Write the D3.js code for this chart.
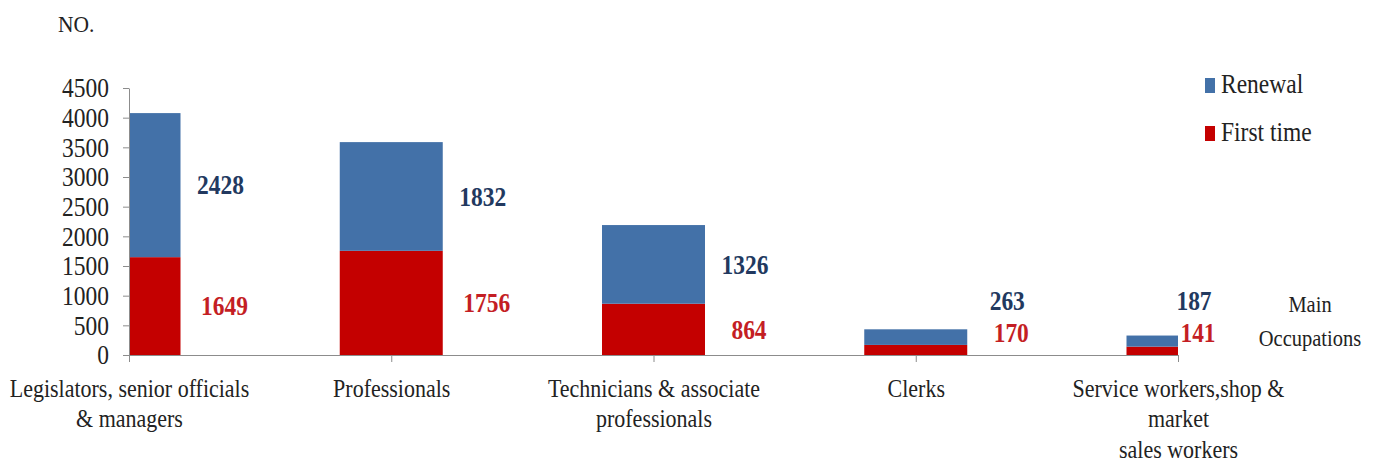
<!DOCTYPE html>
<html>
<head>
<meta charset="utf-8">
<script src="https://cdn.jsdelivr.net/npm/d3@7"></script>
<style>
  body { margin: 0; background: #fff; }
  svg text { font-family: "Liberation Serif", "Times New Roman", serif; }
</style>
</head>
<body>
<svg id="vis" width="1381" height="464"></svg>
<script>
// chart values
const categories = ["Legislators", "Professionals", "Technicians", "Clerks", "Service"];
const categoryLines = [
  ["Legislators, senior officials", "& managers"],
  ["Professionals"],
  ["Technicians & associate", "professionals"],
  ["Clerks"],
  ["Service workers,shop &", "market", "sales workers"]
];
const firstTime = [1649, 1756, 864, 170, 141];
const renewal = [2428, 1832, 1326, 263, 187];
const yTicks = [0, 500, 1000, 1500, 2000, 2500, 3000, 3500, 4000, 4500];
const seriesNames = ["Renewal", "First time"];

const colors = { renewal: "#4371a8", first: "#c40000", renewalText: "#22395f", firstText: "#c41e24", axis: "#8c8c8c", text: "#222" };
const SY = 1.12; // text in the picture is a bit taller than wide

const svg = d3.select("svg#vis");
const plot = { left: 129, right: 1178, top: 88, bottom: 355 };

const x = d3.scalePoint().domain(categories).range([plot.left, plot.right]).padding(0);
const y = d3.scaleLinear().domain([0, 4500]).range([plot.bottom, plot.top]);
const bw = 103;

// stacked data
const rows = categories.map((c, i) => ({ cat: c, first: firstTime[i], renewal: renewal[i] }));
const stack = d3.stack().keys(["first", "renewal"])(rows);

svg.append("clipPath").attr("id", "plotclip")
  .append("rect")
  .attr("x", plot.left + 1).attr("y", 0)
  .attr("width", plot.right - plot.left - 1).attr("height", plot.bottom);

const bars = svg.append("g").attr("clip-path", "url(#plotclip)");
bars.selectAll("g.series")
  .data(stack)
  .enter()
  .append("g")
  .attr("fill", d => d.key === "first" ? colors.first : colors.renewal)
  .selectAll("rect")
  .data(d => d)
  .enter()
  .append("rect")
  .attr("x", d => x(d.data.cat) - bw / 2)
  .attr("width", bw)
  .attr("y", d => y(d[1]))
  .attr("height", d => y(d[0]) - y(d[1]));

// helper for vertically stretched text
function stretched(parent, tx, ty, str, size, opts) {
  opts = opts || {};
  const t = parent.append("text")
    .attr("transform", `translate(${tx},${ty}) scale(1,${SY})`)
    .attr("font-size", size)
    .attr("fill", opts.fill || colors.text)
    .attr("text-anchor", opts.anchor || "start")
    .attr("font-weight", opts.weight || "normal")
    .attr("dy", opts.dy || 0)
    .text(str);
  return t;
}

// y axis
const yAxis = svg.append("g")
  .attr("transform", `translate(${plot.left},0)`)
  .call(d3.axisLeft(y).tickValues(yTicks).tickFormat(d3.format("d"))
    .tickSize(6).tickSizeOuter(0).tickPadding(14));
yAxis.select(".domain").attr("stroke", colors.axis);
yAxis.selectAll(".tick line").attr("stroke", colors.axis);
yAxis.selectAll(".tick text")
  .attr("font-size", 23.5)
  .attr("font-family", "Liberation Serif, serif")
  .attr("fill", colors.text)
  .attr("dy", "0.34em")
  .attr("transform", `scale(1,${SY})`);

// x axis
const xAxis = svg.append("g")
  .attr("transform", `translate(0,${plot.bottom})`)
  .call(d3.axisBottom(x).tickSize(7).tickSizeOuter(0).tickFormat(""));
xAxis.select(".domain").attr("stroke", colors.axis).attr("d", `M${plot.left},0.5H${plot.right}`);
xAxis.selectAll(".tick line").attr("stroke", colors.axis);

xAxis.selectAll(".tick").each(function(d, i) {
  const t = d3.select(this).append("text")
    .attr("transform", `translate(0,42) scale(1,${SY})`)
    .attr("font-size", 22)
    .attr("fill", colors.text)
    .attr("text-anchor", "middle");
  categoryLines[i].forEach((line, j) => {
    t.append("tspan").attr("x", 0).attr("dy", j === 0 ? 0 : 30.5 / SY).text(line);
  });
});

// value labels
const labels = svg.append("g");
rows.forEach(function(d) {
  const lx = Math.min(x(d.cat) + bw / 2 + 40, plot.right + 16);
  const blueMid = (y(d.first) + y(d.first + d.renewal)) / 2;
  const redMid = (y(0) + y(d.first)) / 2;
  stretched(labels, lx, Math.min(blueMid, plot.bottom - 54), d.renewal, 23.5,
    { fill: colors.renewalText, anchor: "middle", weight: "bold", dy: "0.35em" });
  stretched(labels, lx + 4, Math.min(redMid, plot.bottom - 22), d.first, 23.5,
    { fill: colors.firstText, anchor: "middle", weight: "bold", dy: "0.35em" });
});

// titles
stretched(svg, 58, 32, "NO.", 21.5);
stretched(svg, 1310, 312, "Main", 20.5, { anchor: "middle" });
stretched(svg, 1310, 346, "Occupations", 20.5, { anchor: "middle" });

// legend
const legend = svg.append("g");
const legendColors = [colors.renewal, colors.first];
seriesNames.forEach(function(name, i) {
  const ly = 93 + i * 48;
  legend.append("rect")
    .attr("x", 1205).attr("y", ly - 15)
    .attr("width", 10).attr("height", 15)
    .attr("fill", legendColors[i]);
  stretched(legend, 1221, ly, name, 23.5);
});
</script>
</body>
</html>
